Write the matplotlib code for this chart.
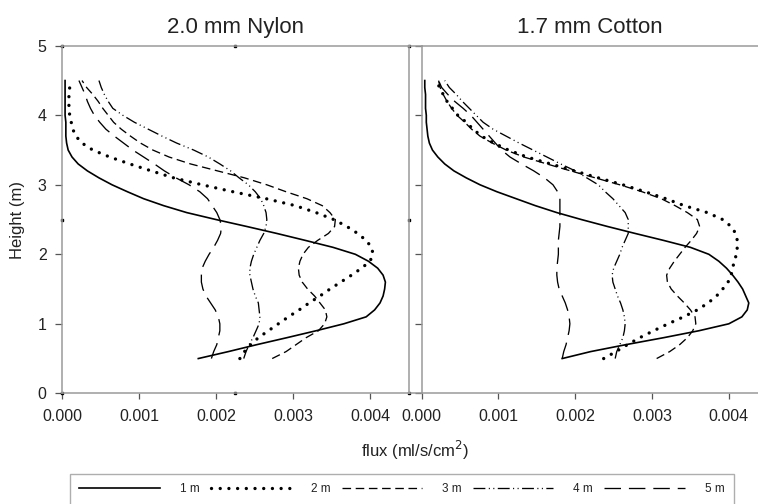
import matplotlib
matplotlib.use("Agg")
import matplotlib.pyplot as plt
from matplotlib.lines import Line2D

plt.rcParams['font.family'] = ['Liberation Sans', 'DejaVu Sans']

# ---------------- data ----------------
heights = [0.5, 0.6, 0.7, 0.8, 0.9, 1.0, 1.1, 1.2, 1.3, 1.4,
           1.5, 1.6, 1.7, 1.8, 1.9, 2.0, 2.1, 2.2, 2.3, 2.4,
           2.5, 2.6, 2.7, 2.8, 2.9, 3.0, 3.1, 3.2, 3.3, 3.4,
           3.5, 3.6, 3.7, 3.8, 3.9, 4.0, 4.1, 4.2, 4.3, 4.4, 4.5]

nylon_1m = [0.00177, 0.00216, 0.00253, 0.00292, 0.00330, 0.00366, 0.00395, 0.00406, 0.00413, 0.00417,
            0.00419, 0.00420, 0.00417, 0.00410, 0.00398, 0.00381, 0.00352, 0.00316, 0.00279, 0.00240,
            0.00200, 0.00162, 0.00132, 0.00106, 0.00085, 0.00065, 0.00048, 0.00033, 0.00021, 0.00013,
            0.00008, 0.00006, 0.00005, 0.00005, 0.00005, 0.00004, 0.00004, 0.00004, 0.00004, 0.00004, 0.00004]
nylon_2m = [0.00231, 0.00237, 0.00245, 0.00255, 0.00268, 0.00281, 0.00294, 0.00308, 0.00321, 0.00335,
            0.00348, 0.00362, 0.00376, 0.00389, 0.00400, 0.00404, 0.00402, 0.00395, 0.00384, 0.00370,
            0.00353, 0.00330, 0.00303, 0.00265, 0.00222, 0.00182, 0.00145, 0.00116, 0.00088, 0.00062,
            0.00040, 0.00026, 0.00018, 0.00014, 0.00012, 0.00010, 0.00009, 0.00009, 0.00009, 0.00010, 0.00010]
nylon_3m = [0.00273, 0.00291, 0.00304, 0.00317, 0.00333, 0.00341, 0.00344, 0.00342, 0.00335, 0.00328,
            0.00319, 0.00312, 0.00308, 0.00307, 0.00309, 0.00313, 0.00320, 0.00332, 0.00346, 0.00354,
            0.00355, 0.00348, 0.00338, 0.00318, 0.00291, 0.00266, 0.00237, 0.00202, 0.00167, 0.00139,
            0.00118, 0.00102, 0.00089, 0.00077, 0.00067, 0.00060, 0.00053, 0.00047, 0.00040, 0.00032, 0.00026]
nylon_4m = [0.00236, 0.00239, 0.00243, 0.00248, 0.00252, 0.00256, 0.00257, 0.00256, 0.00255, 0.00251,
            0.00248, 0.00246, 0.00244, 0.00244, 0.00246, 0.00249, 0.00253, 0.00257, 0.00262, 0.00265,
            0.00266, 0.00265, 0.00262, 0.00258, 0.00251, 0.00242, 0.00230, 0.00219, 0.00205, 0.00190,
            0.00171, 0.00149, 0.00130, 0.00112, 0.00094, 0.00079, 0.00066, 0.00060, 0.00055, 0.00051, 0.00048]
nylon_5m = [0.00194, 0.00197, 0.00201, 0.00203, 0.00205, 0.00205, 0.00203, 0.00199, 0.00193, 0.00187,
            0.00183, 0.00181, 0.00181, 0.00182, 0.00186, 0.00191, 0.00197, 0.00202, 0.00206, 0.00207,
            0.00205, 0.00201, 0.00195, 0.00189, 0.00179, 0.00165, 0.00148, 0.00133, 0.00120, 0.00106,
            0.00092, 0.00080, 0.00068, 0.00057, 0.00049, 0.00042, 0.00037, 0.00033, 0.00030, 0.00026, 0.00022]

cotton_1m = [0.00183, 0.00220, 0.00266, 0.00315, 0.00361, 0.00400, 0.00417, 0.00424, 0.00426, 0.00422,
             0.00418, 0.00412, 0.00405, 0.00397, 0.00387, 0.00374, 0.00350, 0.00315, 0.00278, 0.00242,
             0.00208, 0.00176, 0.00148, 0.00123, 0.00098, 0.00076, 0.00058, 0.00042, 0.00030, 0.00021,
             0.00014, 0.00010, 0.00008, 0.00007, 0.00006, 0.00006, 0.00005, 0.00005, 0.00005, 0.00004, 0.00004]
cotton_2m = [0.00237, 0.00253, 0.00268, 0.00284, 0.00302, 0.00321, 0.00341, 0.00359, 0.00373, 0.00384,
             0.00392, 0.00399, 0.00403, 0.00405, 0.00407, 0.00410, 0.00411, 0.00411, 0.00409, 0.00403,
             0.00392, 0.00372, 0.00342, 0.00318, 0.00291, 0.00262, 0.00230, 0.00199, 0.00168, 0.00137,
             0.00113, 0.00094, 0.00078, 0.00067, 0.00058, 0.00047, 0.00040, 0.00033, 0.00028, 0.00023, 0.00020]
cotton_3m = [0.00306, 0.00323, 0.00336, 0.00346, 0.00353, 0.00357, 0.00356, 0.00350, 0.00342, 0.00333,
             0.00325, 0.00320, 0.00319, 0.00323, 0.00329, 0.00336, 0.00343, 0.00351, 0.00358, 0.00362,
             0.00359, 0.00346, 0.00330, 0.00312, 0.00287, 0.00258, 0.00226, 0.00194, 0.00163, 0.00133,
             0.00110, 0.00092, 0.00076, 0.00065, 0.00056, 0.00046, 0.00039, 0.00033, 0.00028, 0.00024, 0.00022]
cotton_4m = [0.00252, 0.00254, 0.00258, 0.00262, 0.00264, 0.00265, 0.00264, 0.00262, 0.00259, 0.00255,
             0.00252, 0.00249, 0.00248, 0.00250, 0.00254, 0.00258, 0.00261, 0.00265, 0.00269, 0.00269,
             0.00269, 0.00265, 0.00257, 0.00249, 0.00239, 0.00230, 0.00215, 0.00200, 0.00181, 0.00163,
             0.00145, 0.00127, 0.00110, 0.00093, 0.00080, 0.00071, 0.00062, 0.00053, 0.00045, 0.00036, 0.00030]
cotton_5m = [0.00183, 0.00185, 0.00188, 0.00190, 0.00192, 0.00193, 0.00192, 0.00190, 0.00187, 0.00183,
             0.00179, 0.00177, 0.00176, 0.00176, 0.00177, 0.00178, 0.00178, 0.00178, 0.00179, 0.00180,
             0.00180, 0.00180, 0.00180, 0.00180, 0.00177, 0.00171, 0.00160, 0.00146, 0.00130, 0.00115,
             0.00104, 0.00096, 0.00088, 0.00080, 0.00072, 0.00064, 0.00054, 0.00043, 0.00034, 0.00026, 0.00022]

series_labels = ['1 m', '2 m', '3 m', '4 m', '5 m']
panel_titles = ['2.0 mm Nylon', '1.7 mm Cotton']
x_ticks = [0.000, 0.001, 0.002, 0.003, 0.004]
y_ticks = [0, 1, 2, 3, 4, 5]

nylon = [nylon_1m, nylon_2m, nylon_3m, nylon_4m, nylon_5m]
cotton = [cotton_1m, cotton_2m, cotton_3m, cotton_4m, cotton_5m]

# ---------------- styles ----------------
styles = [
    dict(linestyle='-', linewidth=1.2),
    dict(linestyle=(0, (0.01, 2.6)), linewidth=2.4, dash_capstyle='round'),
    dict(linestyle=(0, (6.5, 3.5)), linewidth=0.95),
    dict(linestyle=(0, (9.0, 2.6, 0.8, 2.6, 0.8, 2.6)), linewidth=0.95),
    dict(linestyle=(0, (12.5, 6.0)), linewidth=0.95),
]

spine_col = '#9a9a9a'
text_col = '#222222'

W, H = 758, 504
fig = plt.figure(figsize=(W / 100, H / 100), dpi=100)

y_bot = (H - 393.3) / H
y_top = (H - 45.8) / H
axL = fig.add_axes([62 / W, y_bot, (408.5 - 62) / W, y_top - y_bot])
axR = fig.add_axes([421.7 / W, y_bot, (W - 421.7) / W, y_top - y_bot])

for ax, data, title, xmax in [(axL, nylon, panel_titles[0], 0.0045),
                              (axR, cotton, panel_titles[1], 0.00438)]:
    for vals, st in zip(data, styles):
        ax.plot(vals, heights, color='black', **st)
    ax.set_xlim(0, xmax)
    ax.set_ylim(0, 5)
    ax.set_xticks(x_ticks)
    ax.set_xticklabels([f'{v:.3f}' for v in x_ticks])
    ax.set_yticks(y_ticks)
    ax.set_title(title, fontsize=16, pad=9, color=text_col)
    for s in ax.spines.values():
        s.set_color(spine_col)
        s.set_linewidth(1.1)
    ax.tick_params(axis='both', direction='out', color='#555555', width=0.9,
                   labelsize=11.5, labelcolor=text_col)
    ax.tick_params(axis='x', length=4, pad=7)
    ax.tick_params(axis='y', length=5, pad=6)

axR.spines['right'].set_visible(False)
axR.tick_params(axis='y', labelleft=False)

axL.set_ylabel('Height (m)', fontsize=12, color=text_col, labelpad=9)

# selection-handle dots around the left panel
hx = [0, 0.5, 1, 0, 1, 0, 0.5, 1]
hy = [1, 1, 1, 0.5, 0.5, 0, 0, 0]
axL.plot(hx, hy, 's', color='black', ms=2, transform=axL.transAxes, clip_on=False)

# connect top / bottom lines across the gap between panels
for yy in (y_top, y_bot):
    fig.add_artist(Line2D([408.5 / W, 421.7 / W], [yy, yy], color=spine_col,
                          lw=1.1, transform=fig.transFigure))

fig.text(415 / W, (H - 450) / H, 'flux (ml/s/cm$^2$)', fontsize=12,
         ha='center', va='center', color=text_col)

handles = [Line2D([], [], color='black', **st) for st in styles]
leg = fig.legend(handles, series_labels, loc='upper left',
                 bbox_to_anchor=(70 / W, (H - 474) / H), ncol=5, fontsize=8.5,
                 handlelength=6.8, handletextpad=1.7, columnspacing=0.95,
                 borderpad=0.8, frameon=True, fancybox=False, borderaxespad=0)
leg.get_frame().set_edgecolor(spine_col)
leg.get_frame().set_linewidth(1.0)
for t in leg.get_texts():
    t.set_color(text_col)

fig.savefig('out.png', dpi=100)
